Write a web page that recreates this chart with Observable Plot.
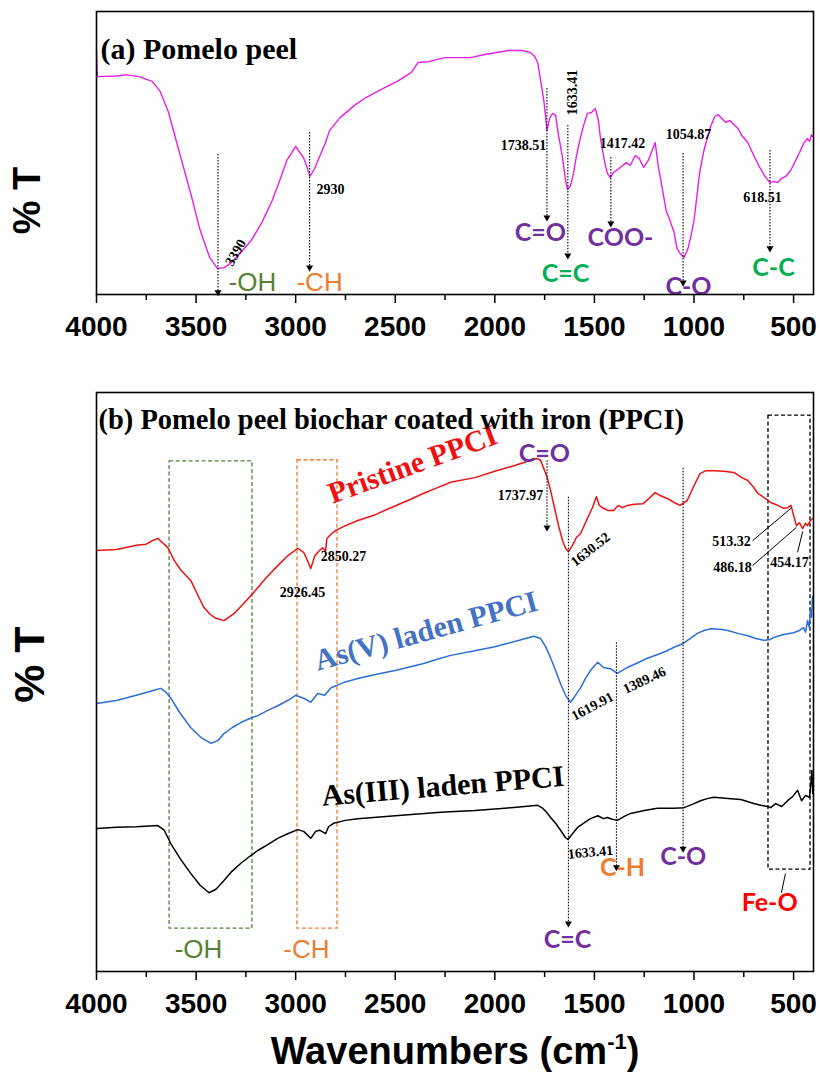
<!DOCTYPE html>
<html><head><meta charset="utf-8">
<script src="https://cdn.jsdelivr.net/npm/d3@7"></script>
<script src="https://cdn.jsdelivr.net/npm/@observablehq/plot@0.6"></script>
<style>body{margin:0;background:#fff;} svg{display:block;}</style>
</head><body><div id="chart"></div>
<script>
// ---------- data: [wavenumber cm-1, %T (relative units)] ----------
const pomelo = [[4000,86],[3996,77],[3900,77.2],[3850,77.6],[3785,77],[3750,76],[3720,75.3],[3680,71.7],[3640,64.7],[3600,54.4],[3563,44.9],[3520,33.9],[3484,23.7],[3432,13.1],[3393,9.2],[3360,9.5],[3327,11],[3280,14.5],[3223,19.1],[3170,25.4],[3118,33.2],[3080,40.3],[3045,47.3],[3000,52.3],[2961,48.4],[2940,44.5],[2929,41.7],[2905,44.5],[2882,48.4],[2850,53.7],[2830,57.9],[2777,62.5],[2700,67.1],[2647,69.6],[2560,72.8],[2490,75.3],[2420,78.4],[2385,82],[2332,82.3],[2254,83.7],[2200,83.7],[2123,83.7],[2050,84.8],[1992,85.5],[1930,86.2],[1861,86.2],[1822,85.5],[1800,84.1],[1785,82],[1770,75.6],[1754,68.6],[1738,58],[1725,62.2],[1710,64],[1695,63.3],[1680,56.2],[1660,48.4],[1645,40.3],[1635,37.1],[1620,38.5],[1605,42.8],[1590,49.1],[1570,55.5],[1550,60.8],[1535,64],[1515,64.3],[1495,65.7],[1480,61.5],[1470,55.5],[1450,47.3],[1435,42.8],[1420,41.3],[1405,43.1],[1390,43.8],[1370,44.9],[1340,46.6],[1320,45.6],[1295,49.1],[1275,48.1],[1253,44.9],[1230,47.3],[1210,50.9],[1195,53.7],[1180,45.6],[1160,37.8],[1140,29.7],[1117,25.4],[1100,21.9],[1085,16.3],[1070,14.5],[1050,13.1],[1030,16.3],[1015,20.8],[1000,26.1],[985,35],[970,43.8],[950,50.9],[930,56.2],[915,59.7],[895,62.9],[880,63.6],[860,62.2],[840,60.8],[820,61.5],[800,60.1],[780,58.7],[760,56.2],[730,53.7],[700,49.1],[670,44.9],[640,41.3],[618,39.6],[600,39.9],[580,39.6],[560,41],[540,41.7],[515,43.8],[490,47.3],[470,50.2],[450,53.4],[430,55.1],[420,54.1],[410,56.5],[400,55.5]];

const pristine = [[4000,72.7],[3900,72.9],[3800,73.6],[3750,73.8],[3720,74.4],[3692,74.8],[3670,74.1],[3642,73.2],[3610,71],[3576,69.3],[3526,67.5],[3490,64.9],[3461,62.9],[3430,61.7],[3401,61],[3360,60.6],[3310,61.8],[3260,63.6],[3215,65.3],[3150,67.9],[3090,70.1],[3040,71.8],[2990,73.1],[2960,72.4],[2945,71.3],[2924,69.6],[2905,71.7],[2880,72.7],[2865,73.2],[2850,72.6],[2843,74.8],[2820,75.6],[2798,76.2],[2750,77],[2688,77.9],[2600,78.9],[2522,80.1],[2440,81.3],[2357,82.6],[2300,83.4],[2222,84.5],[2100,85.3],[2000,86.4],[1900,87.4],[1820,88.3],[1790,88.6],[1770,88.3],[1750,86.5],[1737,85.3],[1720,83.1],[1700,80],[1680,77],[1660,74.4],[1645,73.1],[1630,72.5],[1610,73.6],[1590,75],[1570,75.6],[1540,77.9],[1510,80.1],[1490,82],[1475,80.5],[1455,80],[1430,79.6],[1405,79.6],[1380,80.5],[1360,80.1],[1335,80.5],[1300,80.7],[1255,80.8],[1220,81.9],[1195,82.7],[1170,82.2],[1135,81.7],[1100,81],[1070,80.5],[1050,81],[1035,81.3],[1000,83.9],[970,86],[940,86.5],[900,86.5],[850,86.4],[800,86.2],[760,85.3],[730,84.8],[700,83.6],[680,82.6],[650,81.9],[615,81],[580,80.5],[550,80],[530,80.1],[513,80.5],[500,78.8],[486,77],[470,77.5],[455,76.5],[440,77.4],[430,77],[415,77.9],[405,78.2]];

const asV = [[4000,46.3],[3900,46.8],[3800,47.7],[3720,48.5],[3677,48.9],[3650,48.2],[3627,47.2],[3580,44.6],[3526,42.1],[3475,40.4],[3425,39.4],[3390,39.9],[3360,41.1],[3320,42.1],[3275,43],[3230,43.7],[3190,44.2],[3140,45.1],[3090,45.9],[3040,46.8],[3000,47.7],[2960,47.2],[2924,46.5],[2890,48],[2855,47.7],[2822,49],[2760,49.9],[2688,50.6],[2600,51.3],[2500,52],[2357,53.2],[2272,54.1],[2222,54.6],[2100,55.4],[2000,56.1],[1900,57],[1805,57.9],[1770,57.5],[1745,56.1],[1720,54.2],[1695,52],[1670,49.7],[1645,47.7],[1620,46.5],[1595,47.7],[1570,49],[1545,50.6],[1520,52],[1500,52.8],[1483,53.4],[1455,52.5],[1420,52.3],[1385,51.5],[1360,52],[1335,52.5],[1290,53.2],[1235,54.1],[1185,54.7],[1135,55.4],[1100,56],[1057,56.6],[1020,57.5],[983,58.4],[950,58.9],[915,59.2],[870,59.1],[830,58.9],[780,58.4],[730,58],[690,57.5],[650,57.2],[620,57.3],[600,57.7],[550,58.2],[500,58.5],[470,58.9],[450,59.4],[440,58.6],[430,60.6],[422,59.5],[415,62.3],[410,61.2],[405,64.6],[400,64.9]];

const asIII = [[4000,24.7],[3900,24.9],[3800,25],[3692,25.2],[3660,24.4],[3627,22.1],[3580,19.5],[3526,16.9],[3480,14.9],[3435,13.6],[3400,14.2],[3360,15.7],[3320,17.3],[3275,18.7],[3230,19.9],[3190,20.9],[3140,21.9],[3090,23],[3040,23.8],[2990,24.5],[2960,24.2],[2924,23],[2900,24.2],[2880,24.4],[2850,23.8],[2835,25],[2810,25.6],[2750,26.1],[2688,26.4],[2500,26.9],[2272,27.5],[2100,27.8],[1950,28.2],[1850,28.5],[1785,28.7],[1760,28.2],[1740,27.5],[1720,26.6],[1695,25.6],[1670,24.4],[1645,23.1],[1633,22.8],[1610,23.8],[1584,24.9],[1550,25.7],[1520,26.4],[1483,26.9],[1455,26.4],[1435,26.6],[1410,26.3],[1385,26.1],[1350,26.8],[1318,27.3],[1250,27.8],[1183,28.2],[1100,28.2],[1050,28.3],[1000,29],[967,29.5],[930,29.9],[900,30.1],[830,29.9],[765,29.7],[700,29],[665,28.7],[630,28.5],[615,28.3],[590,29],[560,28.5],[530,29.5],[505,30.2],[480,31.3],[460,29.5],[440,30.4],[420,30.1],[412,33],[408,34.7],[404,30.7],[400,32.1]];

const tickMajor = [4000, 3500, 3000, 2500, 2000, 1500, 1000, 500];
const tickMinor = [3750, 3250, 2750, 2250, 1750, 1250, 750];

// ---------- styling / layout ----------
const SANS = "Liberation Sans, Arial, sans-serif";
const SERIF = "Liberation Serif, Times New Roman, serif";
const HAND = "Lato, sans-serif";
const PURPLE = "#7030a0", GREEN = "#00b050", OLIVE = "#548235", ORANGE = "#ed7d31";
const xy = a => a.map(([w, t]) => ({w, t}));

function axes() {
  return [
    Plot.axisX({ticks: tickMinor, tickSize: 6, tickFormat: () => "", strokeWidth: 1.5, label: null}),
    Plot.axisX({ticks: tickMajor, tickSize: 9, tickPadding: 13, tickFormat: d => String(d), strokeWidth: 1.5,
      fontSize: 28, fontWeight: "bold", fontFamily: SANS, fill: "black", label: null})
  ];
}
function arrows(list) {
  return [
    Plot.ruleX(list, {x: d => d[0], y1: d => d[1], y2: d => d[2], stroke: "black", strokeWidth: 1.1, strokeDasharray: "1.5,1.5"}),
    Plot.dot(list, {x: d => d[0], y: d => d[2], symbol: "triangle", rotate: 180, r: 2.6, fill: "black", stroke: null})
  ];
}
function nums(list, size) {
  return Plot.text(list, {x: d => d[0], y: d => d[1], text: d => d[2], rotate: d => d[3] || 0,
    fontFamily: SERIF, fontWeight: "bold", fontSize: size, fill: "black"});
}
function groups(list, font, weight, size) {
  return Plot.text(list, {x: d => d[0], y: d => d[1], text: d => d[2], fill: d => d[3],
    fontFamily: font, fontWeight: weight, fontSize: size});
}

// ---------- panel (a) ----------
const numLabA = [[3302,14.8,"3390",-60],[2825,37.1,"2930"],[1856,52.7,"1738.51"],[1610,71.4,"1633.41",-90],[1359,53.4,"1417.42"],[1028,56.5,"1054.87"],[656,34.3,"618.51"]];
const arrowA = [[3390,49.5,0.8],[2930,57.2,9.5],[1738.51,72.8,27.2],[1633.41,59.7,13.8],[1417.42,48.4,25.1],[1054.87,49.8,4.2],[618.51,50.9,16.3]];
const grpA = [[1771,21.9,"C=O",PURPLE],[1645,7.4,"C=C",GREEN],[1369,20.1,"COO-",PURPLE],[1028,2.5,"C-O",PURPLE],[601,9.2,"C-C",GREEN]];
const grpA2 = [[3217,4.2,"-OH",OLIVE],[2880,4.2,"-CH",ORANGE]];

const plotA = Plot.plot({
  width: 820, height: 345,
  marginTop: 11, marginBottom: 51, marginLeft: 96, marginRight: 7,
  x: {domain: [4000, 400], label: null},
  y: {domain: [0, 100], axis: null},
  style: {background: "white", overflow: "visible", fontFamily: SANS},
  marks: [
    Plot.line(xy(pomelo), {x: "w", y: "t", stroke: "#e61ee6", strokeWidth: 1.4}),
    ...arrows(arrowA),
    nums(numLabA, 14),
    groups(grpA, HAND, "bold", 25),
    groups(grpA2, SANS, "normal", 26),
    Plot.text(["(a) Pomelo peel"], {frameAnchor: "top-left", dx: 4, dy: 26, textAnchor: "start",
      fontFamily: SERIF, fontWeight: "bold", fontSize: 30, fill: "black"}),
    Plot.text(["% T"], {x: [4000], y: [33.2], dx: -69, rotate: -90,
      fontFamily: SANS, fontWeight: "bold", fontSize: 38, fill: "black"}),
    Plot.frame({stroke: "black", strokeWidth: 1.6}),
    ...axes()
  ]
});

// ---------- panel (b) ----------
const numLabB = [[2966,65.5,"2926.45"],[2760,71.7,"2850.27"],[1871,82.2,"1737.97"],[1520,72.9,"1630.52",-38],[1510,45.8,"1619.91",-28],[1249,50.3,"1389.46",-25],[1520,20.6,"1633.41",-5],[812,74.3,"513.32"],[807,69.8,"486.18"],[520,70.6,"454.17"]];
const arrowB = [[1737.97,88.2,76.7],[1630.52,81.9,8.3],[1389.46,56.8,18.0],[1054.87,86.9,21.2]];
const leaderB = [[706,74.4,513.32,80.0],[706,70.1,486.18,76.7],[480,72.4,454.17,76.0],[541,16.9,561,13.6]];
const grpB = [[1751,89.4,"C=O",PURPLE],[1635,5.4,"C=C",PURPLE],[1359,17.8,"C-H",ORANGE],[1054,19.7,"C-O",PURPLE],[620,11.9,"Fe-O","#ff0000"]];
const grpB2 = [[3488,3.8,"-OH",OLIVE],[2946,3.8,"-CH",ORANGE]];
const boxesB = [[3633,3217,88.1,7.4,OLIVE],[2991,2790,88.3,7.4,ORANGE],[626,415,96.0,17.6,"black"]];
const seriesLab = [[2413,87.6,"Pristine PPCI","#ee1111",-20],[2345,58.8,"As(V) laden PPCI","#4472c4",-15.4],[2261,32.0,"As(III) laden PPCI","black",-4.7]];

const plotB = Plot.plot({
  width: 820, height: 741,
  marginTop: 47, marginBottom: 115, marginLeft: 96, marginRight: 7,
  x: {domain: [4000, 400], label: null},
  y: {domain: [0, 100], axis: null},
  style: {background: "white", overflow: "visible", fontFamily: SANS},
  marks: [
    Plot.rect(boxesB, {x1: d => d[0], x2: d => d[1], y1: d => d[2], y2: d => d[3], fill: "none",
      stroke: d => d[4], strokeWidth: 1.3, strokeDasharray: "4,2.5"}),
    Plot.line(xy(pristine), {x: "w", y: "t", stroke: "#ee1111", strokeWidth: 1.5}),
    Plot.line(xy(asV), {x: "w", y: "t", stroke: "#2b6fd6", strokeWidth: 1.5}),
    Plot.line(xy(asIII), {x: "w", y: "t", stroke: "black", strokeWidth: 1.5}),
    ...arrows(arrowB),
    Plot.link(leaderB, {x1: d => d[0], y1: d => d[1], x2: d => d[2], y2: d => d[3], stroke: "black", strokeWidth: 1}),
    nums(numLabB, 14),
    groups(grpB, HAND, "bold", 25),
    groups(grpB2, SANS, "normal", 26),
    Plot.text(seriesLab, {x: d => d[0], y: d => d[1], text: d => d[2], fill: d => d[3], rotate: d => d[4],
      fontFamily: SERIF, fontWeight: "bold", fontSize: 30}),
    Plot.text(["(b) Pomelo peel biochar coated with iron (PPCI)"], {frameAnchor: "top-left", dx: 2, dy: 16, textAnchor: "start",
      fontFamily: SERIF, fontWeight: "bold", fontSize: 28.5, fill: "black"}),
    Plot.text(["% T"], {x: [4000], y: [53.0], dx: -66, rotate: -90,
      fontFamily: SANS, fontWeight: "bold", fontSize: 43, fill: "black"}),
    Plot.text(["Wavenumbers (cm-1)"], {frameAnchor: "bottom", dy: 92, className: "xlab",
      fontFamily: SANS, fontWeight: "bold", fontSize: 38, fill: "black"}),
    Plot.frame({stroke: "black", strokeWidth: 1.6}),
    ...axes()
  ]
});

// superscript for the axis label
const lab = d3.select(plotB).select(".xlab text");
lab.text(null);
lab.append("tspan").text("Wavenumbers (cm");
lab.append("tspan").attr("font-size", 22).attr("dy", -15).text("-1");
lab.append("tspan").attr("font-size", 38).attr("dy", 15).text(")");

const root = document.getElementById("chart");
root.appendChild(plotA);
root.appendChild(plotB);
</script>
</body></html>
